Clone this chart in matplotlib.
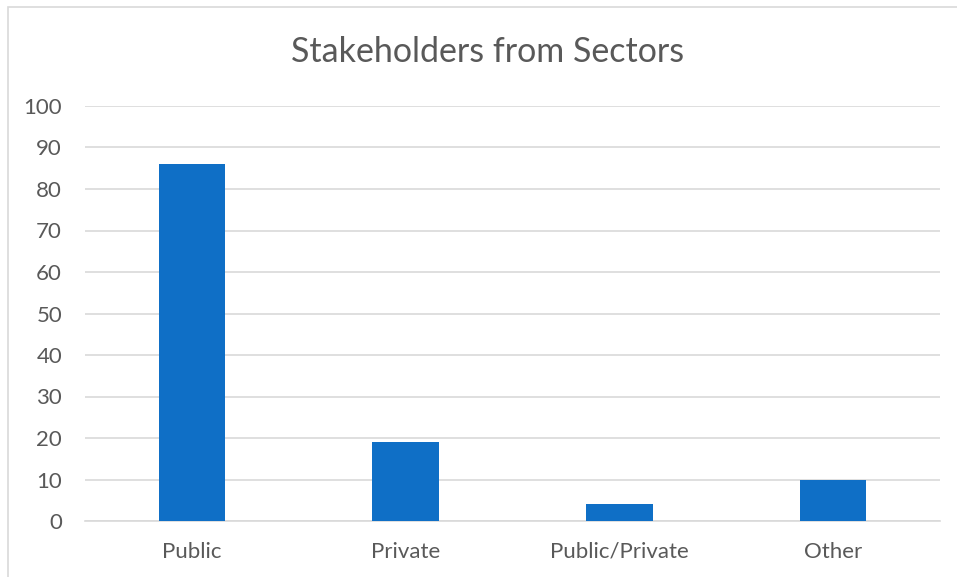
import matplotlib.pyplot as plt
from matplotlib.patches import Rectangle
import numpy as np

plt.rcParams['font.family'] = ['Lato', 'DejaVu Sans']

# sector counts
sectors = ["Public", "Private", "Public/Private", "Other"]
counts = [86, 19, 4, 10]

bar_color = "#0F6FC6"
text_color = "#595959"
grid_color = "#D9D9D9"

fig = plt.figure(figsize=(9.57, 5.77), dpi=100)
ax = fig.add_axes([85 / 957, 56 / 577, 855 / 957, 415 / 577])

# thin frame around the chart area (clipped on the right and bottom)
fig.patches.append(Rectangle((8 / 957, -0.1), 1.2, 1 - 7 / 577 + 0.1,
                             transform=fig.transFigure, fill=False,
                             edgecolor=grid_color, linewidth=1.2))

x = np.arange(len(sectors))
ax.bar(x, counts, width=0.31, color=bar_color, zorder=3)

ax.set_xlim(-0.5, len(sectors) - 0.5)
ax.set_ylim(0, 100)
ax.set_yticks(np.arange(0, 101, 10))
ax.set_xticks(x)
ax.set_xticklabels(sectors)

ax.grid(axis="y", color=grid_color, linewidth=1.2, zorder=0)
for side in ["top", "right", "left"]:
    ax.spines[side].set_visible(False)
ax.spines["bottom"].set_color(grid_color)
ax.spines["bottom"].set_linewidth(1.2)
ax.tick_params(axis="both", length=0, labelsize=16, colors=text_color)
ax.tick_params(axis="y", pad=16.5)
ax.tick_params(axis="x", pad=15)

fig.text(488 / 957, 1 - 52 / 577, "Stakeholders from Sectors",
         ha="center", va="center", fontsize=24.5, color=text_color)

fig.savefig("out.png", dpi=100)
